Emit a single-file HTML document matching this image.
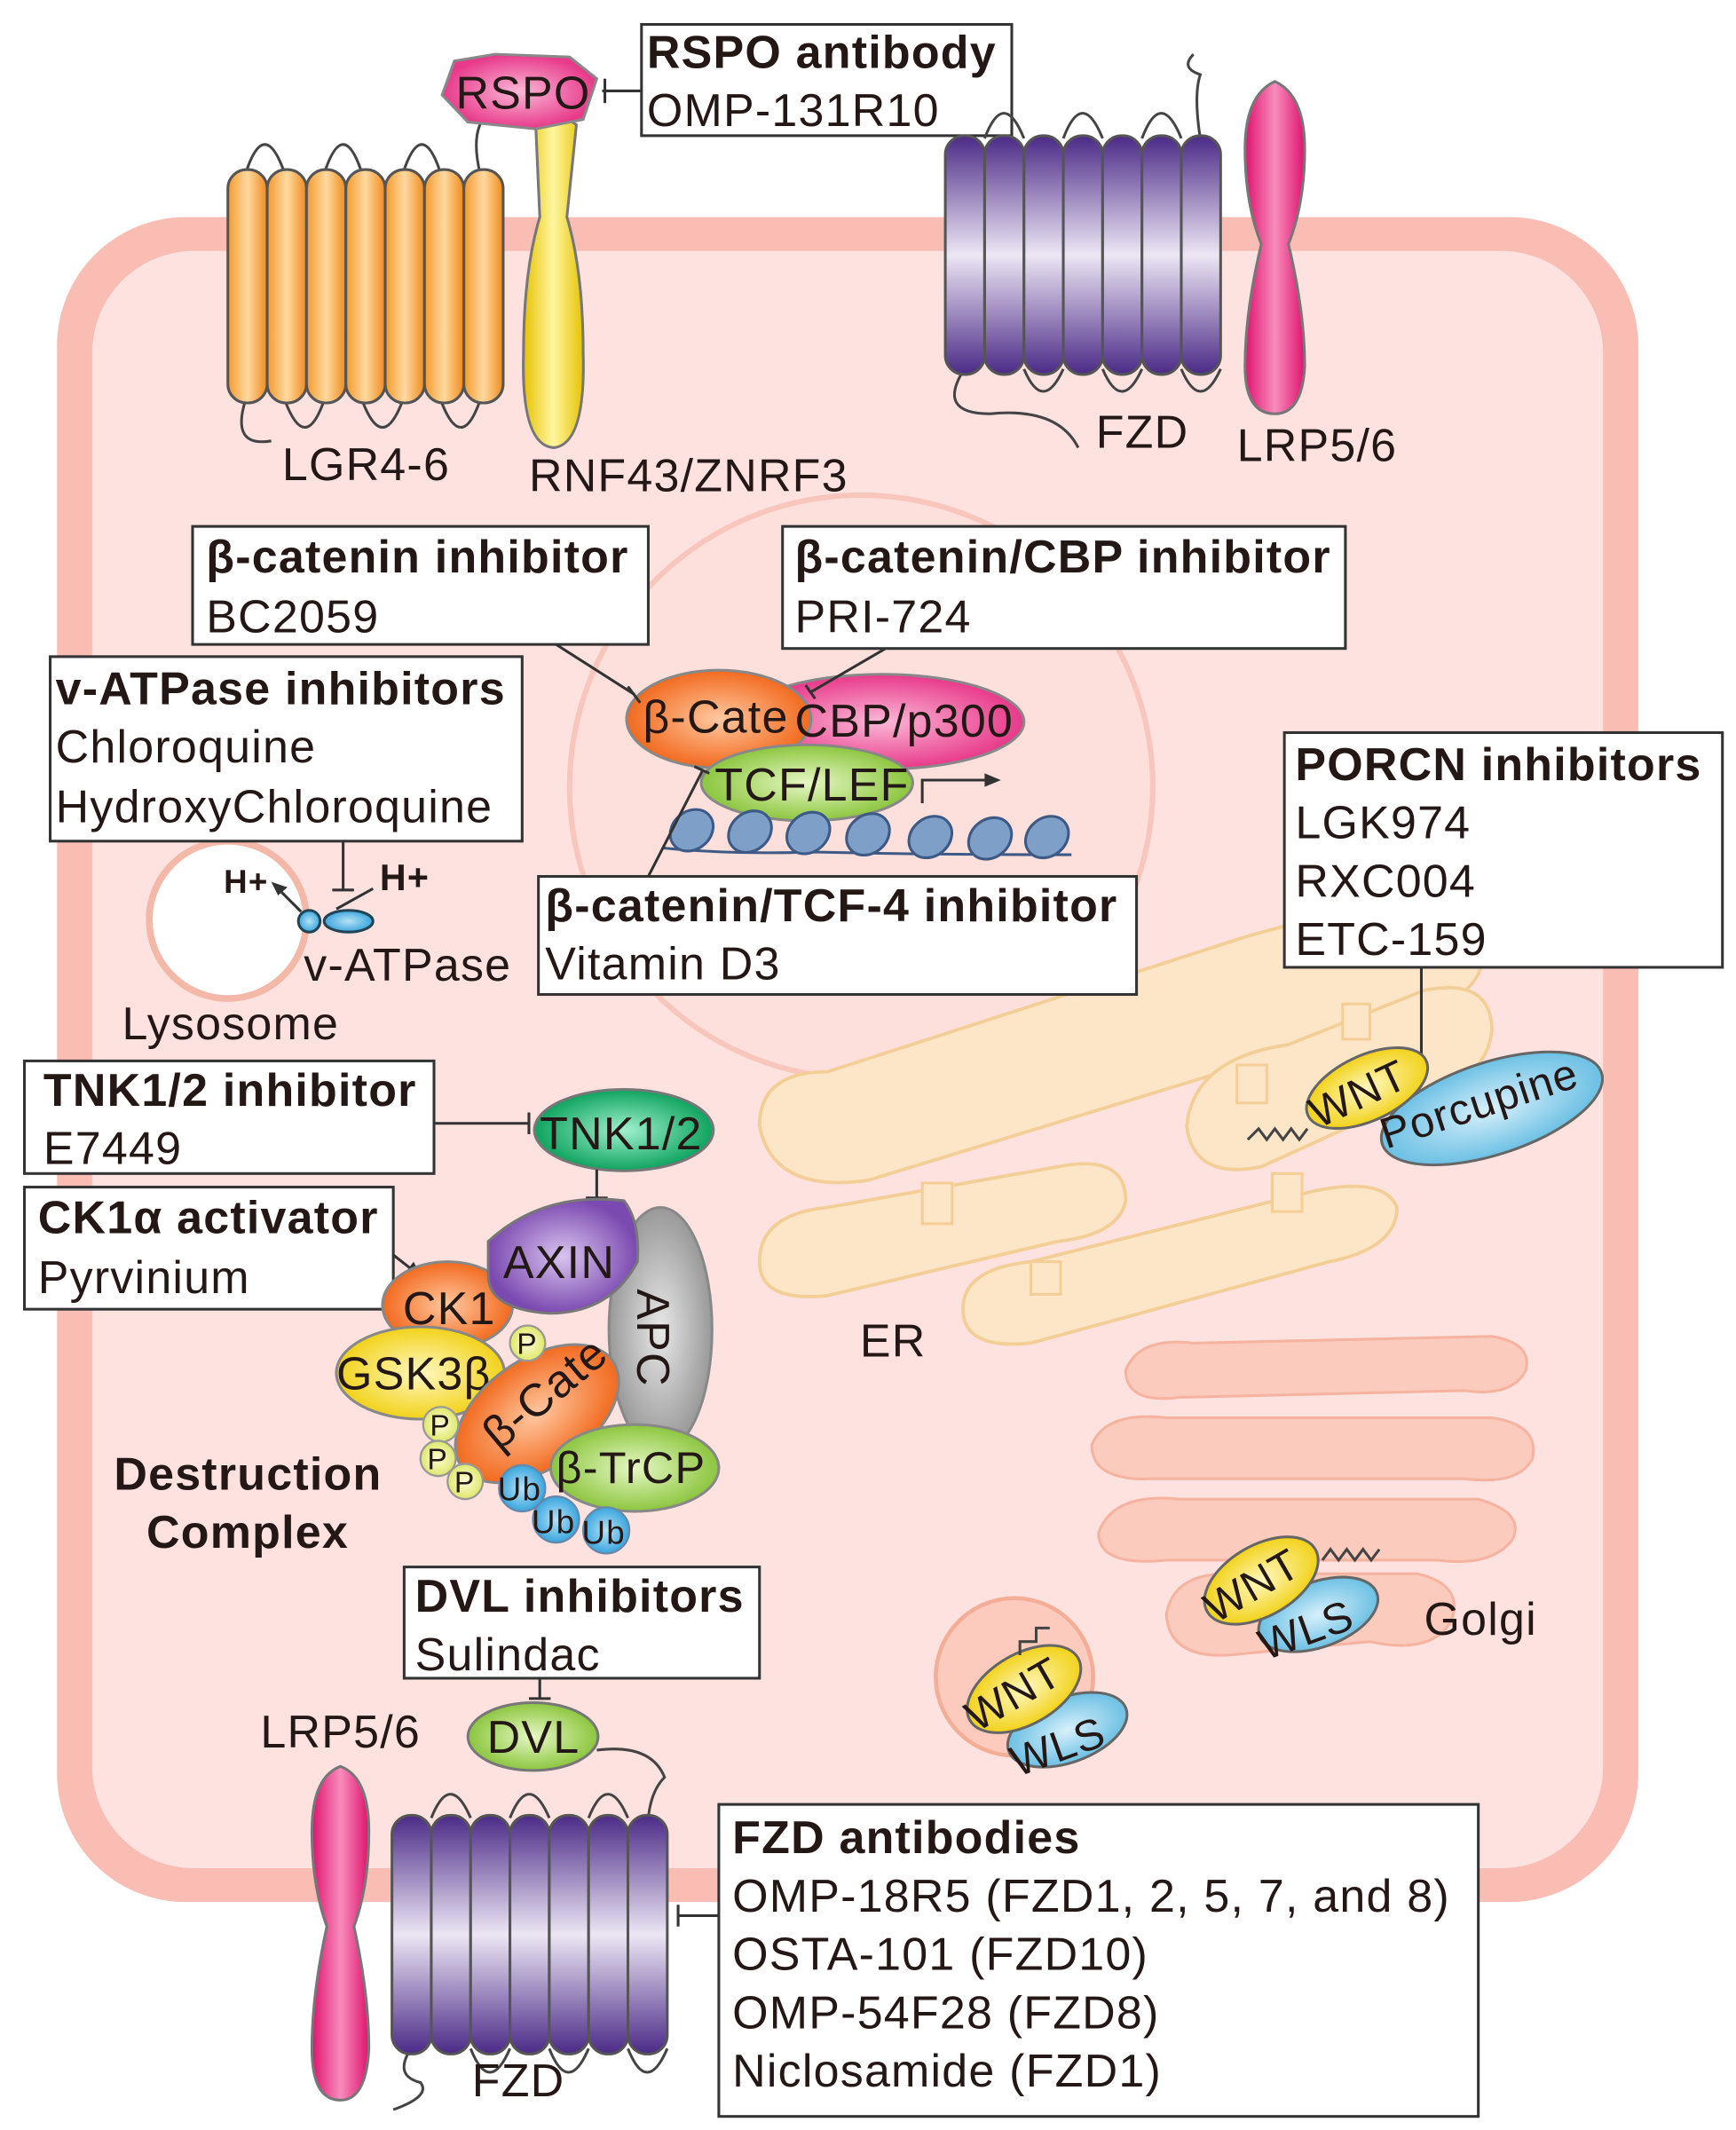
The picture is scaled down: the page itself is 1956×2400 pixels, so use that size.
<!DOCTYPE html>
<html><head><meta charset="utf-8"><style>
html,body{margin:0;padding:0;background:#fff;}
svg{display:block;}
text{font-family:"Liberation Sans",sans-serif;fill:#231815;letter-spacing:0.8px;}
.b{font-weight:bold;}
</style></head><body>
<svg width="1956" height="2400" viewBox="0 0 1280 1570" preserveAspectRatio="none" xmlns="http://www.w3.org/2000/svg">
<defs>
<linearGradient id="or" x1="0" x2="1"><stop offset="0" stop-color="#f39a2c"/><stop offset="0.5" stop-color="#ffd9a0"/><stop offset="1" stop-color="#f08a1c"/></linearGradient>
<linearGradient id="pu" x1="0" y1="0" x2="0" y2="1"><stop offset="0" stop-color="#4b2a87"/><stop offset="0.5" stop-color="#ece6f4"/><stop offset="1" stop-color="#4b2a87"/></linearGradient>
<linearGradient id="pk" x1="0" x2="1"><stop offset="0" stop-color="#e0126e"/><stop offset="0.5" stop-color="#f78cbc"/><stop offset="1" stop-color="#e0126e"/></linearGradient>
<linearGradient id="ye" x1="0" x2="1"><stop offset="0" stop-color="#e6c200"/><stop offset="0.5" stop-color="#fff6a0"/><stop offset="1" stop-color="#e6c200"/></linearGradient>
<radialGradient id="gOr"><stop offset="0" stop-color="#ffc8a0"/><stop offset="1" stop-color="#f26a1f"/></radialGradient>
<radialGradient id="gPk"><stop offset="0" stop-color="#fbb8d6"/><stop offset="1" stop-color="#e8398a"/></radialGradient>
<radialGradient id="gGr"><stop offset="0" stop-color="#e6f7c4"/><stop offset="1" stop-color="#8cc63f"/></radialGradient>
<radialGradient id="gDg"><stop offset="0" stop-color="#9ff0cc"/><stop offset="1" stop-color="#0fa35f"/></radialGradient>
<radialGradient id="gPu"><stop offset="0" stop-color="#d8c4ef"/><stop offset="1" stop-color="#7b4ab0"/></radialGradient>
<radialGradient id="gGy"><stop offset="0" stop-color="#e8e8e8"/><stop offset="1" stop-color="#999"/></radialGradient>
<radialGradient id="gYe"><stop offset="0" stop-color="#fff8c0"/><stop offset="1" stop-color="#f2d21a"/></radialGradient>
<radialGradient id="gBl"><stop offset="0" stop-color="#d8f0fb"/><stop offset="1" stop-color="#6cc0e4"/></radialGradient>
<radialGradient id="gUb"><stop offset="0" stop-color="#b6e2f7"/><stop offset="1" stop-color="#3aa6dd"/></radialGradient>
<radialGradient id="gPp"><stop offset="0" stop-color="#fcfcd8"/><stop offset="1" stop-color="#dfe86a"/></radialGradient>
</defs>

<rect x="42" y="160" width="1166" height="1242" rx="95" fill="#f9bdb4"/>
<rect x="68" y="185" width="1114" height="1192" rx="75" fill="#fde2df"/>
<circle cx="635" cy="580" r="215" fill="#fde0dc" stroke="#f8c6bd" stroke-width="4"/>

<g fill="#fde6c8" stroke="#f3cf97" stroke-width="2.5">
<path d="M560 830 Q560 790 610 790 L920 690 Q1060 650 1090 690 Q1110 740 1000 760 L640 870 Q570 880 560 830Z"/>
<path d="M875 830 Q880 780 950 770 L1050 730 Q1100 720 1100 760 Q1095 800 1040 810 L930 860 Q880 870 875 830Z"/>
<path d="M560 930 Q560 895 610 890 L780 860 Q830 850 830 885 Q825 910 780 915 L610 955 Q560 960 560 930Z"/>
<path d="M710 965 Q710 935 760 930 L960 880 Q1020 865 1030 890 Q1030 920 980 930 L760 990 Q710 995 710 965Z"/>
</g>
<g fill="#fde6c8" stroke="#f3cf97" stroke-width="2"><rect x="680" y="872" width="22" height="30"/><rect x="760" y="930" width="22" height="24"/><rect x="912" y="785" width="22" height="28"/><rect x="938" y="865" width="22" height="28"/><rect x="990" y="740" width="20" height="26"/></g>

<g fill="#fbcbbd" stroke="#f6b3a0" stroke-width="2">
<path d="M830 1010 Q840 985 880 990 L1100 985 Q1130 990 1125 1010 Q1115 1030 1080 1025 L870 1030 Q830 1035 830 1010Z"/>
<path d="M805 1065 Q815 1040 860 1045 L1100 1045 Q1135 1050 1130 1075 Q1120 1095 1080 1090 L850 1090 Q805 1092 805 1065Z"/>
<path d="M810 1130 Q820 1100 870 1105 L1090 1105 Q1125 1115 1115 1135 Q1100 1155 1060 1150 L860 1150 Q810 1155 810 1130Z"/>
<path d="M860 1190 Q865 1160 905 1160 L1045 1160 Q1080 1168 1070 1195 Q1055 1220 1010 1210 L905 1220 Q862 1222 860 1190Z"/>
</g>
<circle cx="748" cy="1236" r="58" fill="#fccbbd" stroke="#f4ae98" stroke-width="3"/>

<circle cx="168" cy="678" r="58" fill="#fff" stroke="#f4b8a8" stroke-width="5"/>

<g stroke="#444" stroke-width="2" fill="none">
<path d="M181 128 Q195 85 210 128 M239 128 Q253 85 267 128 M297 128 Q311 85 325 128"/>
<path d="M210 295 Q225 335 239 295 M267 295 Q282 335 297 295 M325 295 Q340 335 354 295"/>
<path d="M181 295 Q170 330 200 325"/>
<path d="M354 128 Q345 90 365 80"/>
</g>
<g fill="url(#or)" stroke="#555" stroke-width="2">
<rect x="168" y="125" width="29" height="172" rx="14"/><rect x="197" y="125" width="29" height="172" rx="14"/><rect x="226" y="125" width="29" height="172" rx="14"/><rect x="255" y="125" width="29" height="172" rx="14"/><rect x="284" y="125" width="29" height="172" rx="14"/><rect x="313" y="125" width="29" height="172" rx="14"/><rect x="342" y="125" width="29" height="172" rx="14"/>
</g>
<path d="M395 92 Q410 80 425 92 L418 160 Q430 200 430 260 Q432 328 408 330 Q384 328 386 260 Q386 200 398 160Z" fill="url(#ye)" stroke="#777" stroke-width="2"/>
<polygon points="335,45 365,40 420,42 440,58 430,88 395,95 345,90 326,70" fill="url(#gPk)" stroke="#888" stroke-width="2"/>
<text x="336" y="80" font-size="34">RSPO</text>
<line x1="444" y1="67" x2="473" y2="67" stroke="#333" stroke-width="2"/><line x1="446" y1="58" x2="446" y2="76" stroke="#333" stroke-width="2"/>
<rect x="473" y="18" width="273" height="82" fill="#fff" stroke="#333" stroke-width="2"/>
<text x="477" y="50" font-size="34" class="b">RSPO antibody</text>
<text x="477" y="93" font-size="34">OMP-131R10</text>
<text x="208" y="354" font-size="34">LGR4-6</text>
<text x="390" y="362" font-size="34">RNF43/ZNRF3</text>

<g stroke="#444" stroke-width="2" fill="none">
<path d="M726 102 Q740 65 755 102 M784 102 Q798 65 813 102 M842 102 Q856 65 871 102"/>
<path d="M755 272 Q769 305 784 272 M813 272 Q827 305 842 272 M871 272 Q885 305 900 272"/>
<path d="M711 272 Q690 305 730 305 Q780 300 795 330"/>
<path d="M885 102 Q880 70 885 55 Q870 50 880 40"/>
</g>
<g fill="url(#pu)" stroke="#555" stroke-width="2">
<rect x="697" y="100" width="29" height="176" rx="14"/><rect x="726" y="100" width="29" height="176" rx="14"/><rect x="755" y="100" width="29" height="176" rx="14"/><rect x="784" y="100" width="29" height="176" rx="14"/><rect x="813" y="100" width="29" height="176" rx="14"/><rect x="842" y="100" width="29" height="176" rx="14"/><rect x="871" y="100" width="29" height="176" rx="14"/>
</g>
<path d="M940 60 Q962 70 962 110 Q962 150 950 180 Q962 230 962 270 Q960 305 940 305 Q918 305 918 270 Q918 230 930 180 Q918 150 918 110 Q918 70 940 60Z" fill="url(#pk)" stroke="#777" stroke-width="2"/>
<text x="808" y="330" font-size="34">FZD</text>
<text x="912" y="340" font-size="34">LRP5/6</text>

<ellipse cx="650" cy="532" rx="105" ry="35" fill="url(#gPk)" stroke="#888" stroke-width="2"/>
<ellipse cx="530" cy="530" rx="68" ry="36" fill="url(#gOr)" stroke="#888" stroke-width="2"/>
<ellipse cx="595" cy="577" rx="78" ry="28" fill="url(#gGr)" stroke="#888" stroke-width="2"/>
<text x="474" y="540" font-size="34">β-Cate</text>
<text x="586" y="543" font-size="34">CBP/p300</text>
<text x="527" y="590" font-size="34">TCF/LEF</text>
<path d="M680 592 L680 575 L730 575" fill="none" stroke="#333" stroke-width="2"/><polygon points="738,575 726,570 726,580" fill="#333"/>
<path d="M488 625 Q540 630 600 628 Q680 630 790 630" fill="none" stroke="#3c5a85" stroke-width="2"/>
<g fill="#7e9fc8" stroke="#3c5a85" stroke-width="2">
<ellipse cx="510" cy="612" rx="14" ry="17" transform="rotate(50 510 612)"/><ellipse cx="553" cy="613" rx="14" ry="17" transform="rotate(50 553 613)"/><ellipse cx="596" cy="614" rx="14" ry="17" transform="rotate(50 596 614)"/><ellipse cx="640" cy="615" rx="14" ry="17" transform="rotate(50 640 615)"/><ellipse cx="686" cy="617" rx="14" ry="17" transform="rotate(50 686 617)"/><ellipse cx="730" cy="618" rx="14" ry="17" transform="rotate(50 730 618)"/><ellipse cx="772" cy="617" rx="14" ry="17" transform="rotate(50 772 617)"/>
</g>
<g stroke="#333" stroke-width="2" fill="none">
<line x1="410" y1="475" x2="468" y2="512"/><line x1="463" y1="506" x2="472" y2="518" />
<line x1="653" y1="478" x2="598" y2="510"/><line x1="594" y1="505" x2="601" y2="515"/>
<line x1="478" y1="646" x2="518" y2="568"/><line x1="512" y1="565" x2="523" y2="570"/>
</g>
<rect x="142" y="388" width="336" height="87" fill="#fff" stroke="#333" stroke-width="2"/>
<text x="152" y="422" font-size="34" class="b">β-catenin inhibitor</text>
<text x="152" y="466" font-size="34">BC2059</text>
<rect x="577" y="388" width="415" height="90" fill="#fff" stroke="#333" stroke-width="2"/>
<text x="586" y="422" font-size="34" class="b">β-catenin/CBP inhibitor</text>
<text x="586" y="466" font-size="34">PRI-724</text>
<rect x="397" y="646" width="441" height="87" fill="#fff" stroke="#333" stroke-width="2"/>
<text x="402" y="679" font-size="34" class="b">β-catenin/TCF-4 inhibitor</text>
<text x="402" y="722" font-size="34">Vitamin D3</text>

<rect x="37" y="484" width="348" height="136" fill="#fff" stroke="#333" stroke-width="2"/>
<text x="41" y="519" font-size="34" class="b">v-ATPase inhibitors</text>
<text x="41" y="562" font-size="34">Chloroquine</text>
<text x="41" y="606" font-size="34">HydroxyChloroquine</text>
<line x1="253" y1="620" x2="253" y2="656" stroke="#333" stroke-width="2"/><line x1="245" y1="656" x2="261" y2="656" stroke="#333" stroke-width="2"/>
<ellipse cx="257" cy="679" rx="18" ry="8" fill="url(#gUb)" stroke="#245" stroke-width="2"/>
<circle cx="228" cy="679" r="8" fill="url(#gUb)" stroke="#245" stroke-width="2"/>
<path d="M222 672 L205 655" stroke="#333" stroke-width="2"/><polygon points="200,650 212,654 205,660" fill="#333"/>
<path d="M248 670 L275 655" stroke="#333" stroke-width="2"/>
<text x="165" y="658" font-size="24" class="b">H+</text>
<text x="280" y="656" font-size="27" class="b">H+</text>
<text x="224" y="723" font-size="34">v-ATPase</text>
<text x="90" y="766" font-size="34">Lysosome</text>

<line x1="1048" y1="713" x2="1048" y2="800" stroke="#333" stroke-width="2"/>
<rect x="947" y="540" width="323" height="173" fill="#fff" stroke="#333" stroke-width="2"/>
<text x="955" y="575" font-size="34" class="b">PORCN inhibitors</text>
<text x="955" y="618" font-size="34">LGK974</text>
<text x="955" y="661" font-size="34">RXC004</text>
<text x="955" y="704" font-size="34">ETC-159</text>
<path d="M920 840 l8 -8 l6 8 l6 -8 l6 8 l6 -8 l6 8 l6 -8" fill="none" stroke="#444" stroke-width="2"/>
<ellipse cx="1100" cy="817" rx="85" ry="34" transform="rotate(-18 1100 817)" fill="url(#gBl)" stroke="#666" stroke-width="2"/>
<ellipse cx="1008" cy="802" rx="48" ry="24" transform="rotate(-25 1008 802)" fill="url(#gYe)" stroke="#666" stroke-width="2"/>
<text font-size="32" transform="translate(972 832) rotate(-25)">WNT</text>
<text font-size="32" transform="translate(1022 847) rotate(-18)">Porcupine</text>

<text x="634" y="1000" font-size="34">ER</text>
<text x="1050" y="1205" font-size="34">Golgi</text>
<ellipse cx="972" cy="1190" rx="46" ry="24" transform="rotate(-20 972 1190)" fill="url(#gBl)" stroke="#666" stroke-width="2"/>
<ellipse cx="930" cy="1165" rx="46" ry="26" transform="rotate(-30 930 1165)" fill="url(#gYe)" stroke="#666" stroke-width="2"/>
<text font-size="32" transform="translate(896 1197) rotate(-30)">WNT</text>
<text font-size="32" transform="translate(933 1224) rotate(-20)">WLS</text>
<path d="M975 1150 l6 -8 l6 8 l6 -8 l6 8 l6 -8 l6 8 l6 -8" fill="none" stroke="#444" stroke-width="2"/>
<ellipse cx="787" cy="1275" rx="46" ry="24" transform="rotate(-20 787 1275)" fill="url(#gBl)" stroke="#666" stroke-width="2"/>
<ellipse cx="755" cy="1245" rx="46" ry="26" transform="rotate(-30 755 1245)" fill="url(#gYe)" stroke="#666" stroke-width="2"/>
<text font-size="32" transform="translate(720 1277) rotate(-30)">WNT</text>
<text font-size="32" transform="translate(750 1310) rotate(-20)">WLS</text>
<path d="M752 1220 l0 -10 l12 0 l0 -10 l10 0" fill="none" stroke="#444" stroke-width="2"/>

<rect x="18" y="782" width="302" height="83" fill="#fff" stroke="#333" stroke-width="2"/>
<text x="32" y="815" font-size="34" class="b">TNK1/2 inhibitor</text>
<text x="32" y="858" font-size="34">E7449</text>
<line x1="320" y1="828" x2="390" y2="828" stroke="#333" stroke-width="2"/><line x1="390" y1="820" x2="390" y2="836" stroke="#333" stroke-width="2"/>
<ellipse cx="460" cy="833" rx="66" ry="30" fill="url(#gDg)" stroke="#777" stroke-width="2"/>
<text x="398" y="847" font-size="34">TNK1/2</text>
<line x1="440" y1="862" x2="440" y2="883" stroke="#333" stroke-width="2"/><line x1="432" y1="883" x2="448" y2="883" stroke="#333" stroke-width="2"/>
<rect x="18" y="875" width="272" height="90" fill="#fff" stroke="#333" stroke-width="2"/>
<text x="28" y="909" font-size="34" class="b">CK1α activator</text>
<text x="28" y="953" font-size="34">Pyrvinium</text>
<line x1="290" y1="925" x2="304" y2="936" stroke="#333" stroke-width="2"/><polygon points="311,942 298,939 305,930" fill="#333"/>
<ellipse cx="487" cy="980" rx="38" ry="90" fill="url(#gGy)" stroke="#888" stroke-width="2"/>
<text font-size="34" transform="translate(470 950) rotate(90)">APC</text>
<ellipse cx="330" cy="962" rx="48" ry="32" fill="url(#gOr)" stroke="#888" stroke-width="2"/>
<text x="297" y="976" font-size="34">CK1</text>
<path d="M360 915 Q400 878 460 885 Q472 900 470 930 Q450 968 405 968 Q360 965 360 940Z" fill="url(#gPu)" stroke="#777" stroke-width="2"/>
<text x="371" y="942" font-size="34">AXIN</text>
<ellipse cx="310" cy="1012" rx="62" ry="34" fill="url(#gYe)" stroke="#888" stroke-width="2"/>
<text x="248" y="1024" font-size="34">GSK3β</text>
<ellipse cx="396" cy="1042" rx="68" ry="40" transform="rotate(-35 396 1042)" fill="url(#gOr)" stroke="#888" stroke-width="2"/>
<text font-size="34" transform="translate(368 1070) rotate(-40)">β-Cate</text>
<ellipse cx="468" cy="1082" rx="62" ry="32" fill="url(#gGr)" stroke="#888" stroke-width="2"/>
<text x="410" y="1093" font-size="33">β-TrCP</text>
<g fill="url(#gPp)" stroke="#999" stroke-width="1.5">
<circle cx="389" cy="990" r="13"/><circle cx="325" cy="1050" r="13"/><circle cx="323" cy="1075" r="13"/><circle cx="343" cy="1092" r="13"/></g>
<g font-size="22"><text x="381" y="998">P</text><text x="317" y="1058">P</text><text x="315" y="1083">P</text><text x="335" y="1100">P</text></g>
<g fill="url(#gUb)" stroke="#68a" stroke-width="1.5"><circle cx="385" cy="1097" r="17"/><circle cx="410" cy="1120" r="17"/><circle cx="447" cy="1128" r="17"/></g>
<g font-size="24"><text x="367" y="1106">Ub</text><text x="392" y="1130">Ub</text><text x="429" y="1138">Ub</text></g>
<text x="84" y="1098" font-size="34" class="b">Destruction</text>
<text x="108" y="1141" font-size="34" class="b">Complex</text>

<rect x="298" y="1155" width="262" height="82" fill="#fff" stroke="#333" stroke-width="2"/>
<text x="306" y="1188" font-size="34" class="b">DVL inhibitors</text>
<text x="306" y="1231" font-size="34">Sulindac</text>
<line x1="398" y1="1237" x2="398" y2="1252" stroke="#333" stroke-width="2"/><line x1="390" y1="1252" x2="406" y2="1252" stroke="#333" stroke-width="2"/>
<ellipse cx="393" cy="1280" rx="48" ry="25" fill="url(#gGr)" stroke="#777" stroke-width="2"/>
<text x="359" y="1292" font-size="34">DVL</text>
<text x="192" y="1288" font-size="34">LRP5/6</text>

<g stroke="#444" stroke-width="2" fill="none">
<path d="M318 1340 Q332 1305 347 1340 M376 1340 Q390 1305 405 1340 M434 1340 Q448 1305 463 1340"/>
<path d="M303 1510 Q290 1530 310 1535 Q318 1545 290 1555"/>
<path d="M347 1510 Q361 1545 376 1510 M405 1510 Q419 1545 434 1510 M463 1510 Q477 1545 492 1510"/>
<path d="M478 1340 Q480 1320 490 1310 Q480 1285 440 1290"/>
</g>
<g fill="url(#pu)" stroke="#555" stroke-width="2">
<rect x="289" y="1338" width="29" height="176" rx="14"/><rect x="318" y="1338" width="29" height="176" rx="14"/><rect x="347" y="1338" width="29" height="176" rx="14"/><rect x="376" y="1338" width="29" height="176" rx="14"/><rect x="405" y="1338" width="29" height="176" rx="14"/><rect x="434" y="1338" width="29" height="176" rx="14"/><rect x="463" y="1338" width="29" height="176" rx="14"/>
</g>
<path d="M251 1302 Q272 1310 272 1350 Q272 1390 261 1420 Q272 1470 272 1510 Q270 1548 251 1548 Q230 1548 230 1510 Q230 1470 241 1420 Q230 1390 230 1350 Q230 1310 251 1302Z" fill="url(#pk)" stroke="#777" stroke-width="2"/>
<text x="348" y="1545" font-size="34">FZD</text>
<line x1="500" y1="1412" x2="530" y2="1412" stroke="#333" stroke-width="2"/><line x1="500" y1="1404" x2="500" y2="1420" stroke="#333" stroke-width="2"/>
<rect x="530" y="1330" width="560" height="230" fill="#fff" stroke="#333" stroke-width="2"/>
<text x="540" y="1366" font-size="34" class="b">FZD antibodies</text>
<text x="540" y="1409" font-size="34">OMP-18R5 (FZD1, 2, 5, 7, and 8)</text>
<text x="540" y="1452" font-size="34">OSTA-101 (FZD10)</text>
<text x="540" y="1495" font-size="34">OMP-54F28 (FZD8)</text>
<text x="540" y="1538" font-size="34">Niclosamide (FZD1)</text>
</svg>
</body></html>
